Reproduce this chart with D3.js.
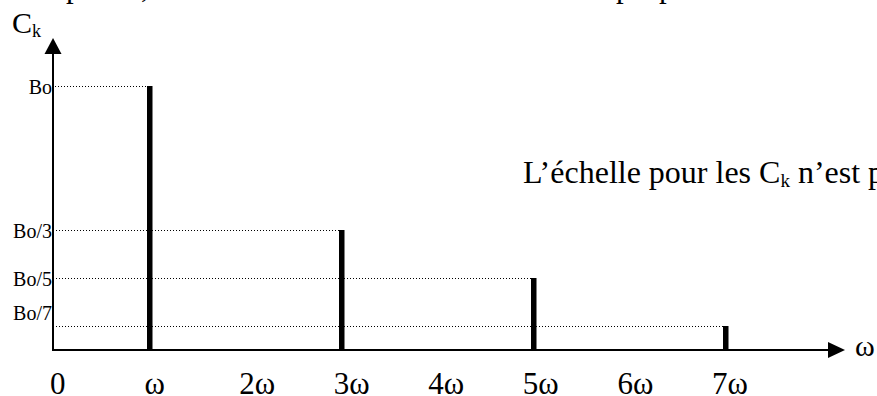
<!DOCTYPE html>
<html>
<head>
<meta charset="utf-8">
<script src="https://cdn.jsdelivr.net/npm/d3@7"></script>
<style>
  html, body { margin: 0; padding: 0; background: #fff; overflow: hidden; }
  svg { display: block; overflow: hidden; }
  text { font-family: "Liberation Serif", "Times New Roman", serif; fill: #000; }
</style>
</head>
<body>
<svg id="chart" width="877" height="396"></svg>
<script>
// Line spectrum of a square wave: odd harmonics only.
const harmonics = [1, 3, 5, 7];                 // multiples of ω
const amplitudeLabels = ["Bo", "Bo/3", "Bo/5", "Bo/7"];
// Drawn heights (arbitrary units): the Ck axis is deliberately not to scale.
const drawnHeights = [11, 5, 3, 1];
const tickLabels = ["0", "ω", "2ω", "3ω", "4ω", "5ω", "6ω", "7ω"];
const tickValues = [0, 1, 2, 3, 4, 5, 6, 7];

const svg = d3.select("#chart");

const originX = 53, originY = 350;
const x = d3.scaleLinear().domain([0, 7]).range([originX, 725]);
const y = d3.scaleLinear().domain([0, 11]).range([originY, 86]);
const xLabel = d3.scaleLinear().domain([0, 7]).range([50, 712]);

// Tails of the previous text line, cut by the top of the page
const cutLine = [["p", 66], [",", 141], ["p", 616], ["p", 659]];
svg.selectAll("text.cut").data(cutLine).join("text")
  .attr("class", "cut")
  .attr("x", d => d[1])
  .attr("y", -3.5)
  .attr("font-size", 31)
  .text(d => d[0]);

// Dotted guides from the Ck axis to the top of each line
const guides = harmonics.map((h, i) => ({ h, v: drawnHeights[i], label: amplitudeLabels[i] }));
svg.selectAll("line.guide").data(guides).join("line")
  .attr("class", "guide")
  .attr("x1", (d, i) => i === 0 ? originX + 2 : originX)
  .attr("x2", d => x(d.h) - 1)
  .attr("y1", d => Math.round(y(d.v)) + 0.5)
  .attr("y2", d => Math.round(y(d.v)) + 0.5)
  .attr("stroke", "#000")
  .attr("stroke-width", 1)
  .attr("shape-rendering", "crispEdges")
  .attr("stroke-dasharray", "1,2");

// Spectral lines
svg.selectAll("rect.bar").data(guides).join("rect")
  .attr("class", "bar")
  .attr("x", d => x(d.h) - 2)
  .attr("width", 5.5)
  .attr("y", d => y(d.v))
  .attr("height", d => y(0) - y(d.v))
  .attr("fill", "#000");

// Axes with arrow heads
svg.append("line")
  .attr("x1", originX).attr("x2", originX)
  .attr("y1", originY + 1).attr("y2", 50)
  .attr("stroke", "#000").attr("stroke-width", 2);
svg.append("path")
  .attr("d", `M${originX},38 L${originX - 8.5},54 L${originX + 8.5},54 Z`)
  .attr("fill", "#000");

svg.append("line")
  .attr("x1", originX - 1).attr("x2", 832)
  .attr("y1", originY).attr("y2", originY)
  .attr("stroke", "#000").attr("stroke-width", 2);
svg.append("path")
  .attr("d", `M845,${originY} L828,${originY - 8} L828,${originY + 8} Z`)
  .attr("fill", "#000");

// Amplitude labels on the Ck axis
svg.selectAll("text.amp").data(guides).join("text")
  .attr("class", "amp")
  .attr("x", 52)
  .attr("y", (d, i) => i === 3 ? y(d.v) - 6 : y(d.v) + 8)
  .attr("text-anchor", "end")
  .attr("font-size", 20)
  .text(d => d.label);

// Frequency labels under the ω axis
svg.selectAll("text.tick").data(tickValues).join("text")
  .attr("class", "tick")
  .attr("x", d => xLabel(d))
  .attr("y", 394)
  .attr("font-size", 31)
  .text((d, i) => tickLabels[i]);

// Axis titles
const ck = svg.append("text").attr("x", 12).attr("y", 33).attr("font-size", 30);
ck.append("tspan").text("C");
ck.append("tspan").attr("font-size", 18).attr("dy", 4).text("k");

svg.append("text").attr("x", 855).attr("y", 356).attr("font-size", 30).text("ω");

// Note about the vertical scale
const note = svg.append("text").attr("x", 523).attr("y", 183).attr("font-size", 32);
note.append("tspan").text("L’échelle pour les C");
note.append("tspan").attr("font-size", 19).attr("dy", 4).text("k");
note.append("tspan").attr("dy", -4).text(" n’est pas respectée");
</script>
</body>
</html>
